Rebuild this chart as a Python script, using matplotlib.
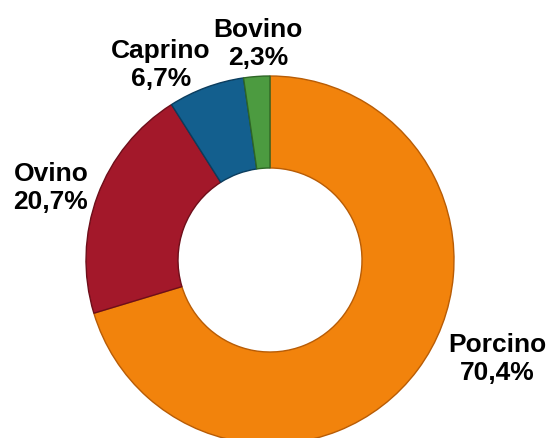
import matplotlib
matplotlib.use("Agg")
import matplotlib.pyplot as plt

categories = ["Porcino", "Ovino", "Caprino", "Bovino"]
values = [70.4, 20.7, 6.7, 2.3]
value_labels = ["70,4%", "20,7%", "6,7%", "2,3%"]
colors = ["#F2830C", "#A3182A", "#135F8E", "#4C9B40"]
edges = ["#B85C05", "#6E0E1A", "#0B3D5E", "#2E6626"]

W, H = 550, 438
fig = plt.figure(figsize=(W / 100, H / 100), dpi=100)
ax = fig.add_axes([0, 0, 1, 1])
ax.set_xlim(0, W)
ax.set_ylim(0, H)
ax.set_aspect("equal")
ax.axis("off")

cx, cy, R, rin = 270, H - 260, 184, 92
wedges, _ = ax.pie(values, colors=colors, startangle=90, counterclock=False,
                   center=(cx, cy), radius=R,
                   wedgeprops=dict(width=R - rin, linewidth=1.0))
for w, e in zip(wedges, edges):
    w.set_edgecolor(e)
ax.set_xlim(0, W)
ax.set_ylim(0, H)

label_pos = {"Porcino": (497, 359), "Ovino": (51, 188), "Caprino": (161, 65), "Bovino": (258, 44)}
for cat, lab in zip(categories, value_labels):
    x, py = label_pos[cat]
    ax.text(x, H - py, f"{cat}\n{lab}", ha="center", va="center",
            fontsize=19, fontweight="bold", family="Liberation Sans",
            linespacing=1.2, color="black")

fig.savefig("out.png", dpi=100)
